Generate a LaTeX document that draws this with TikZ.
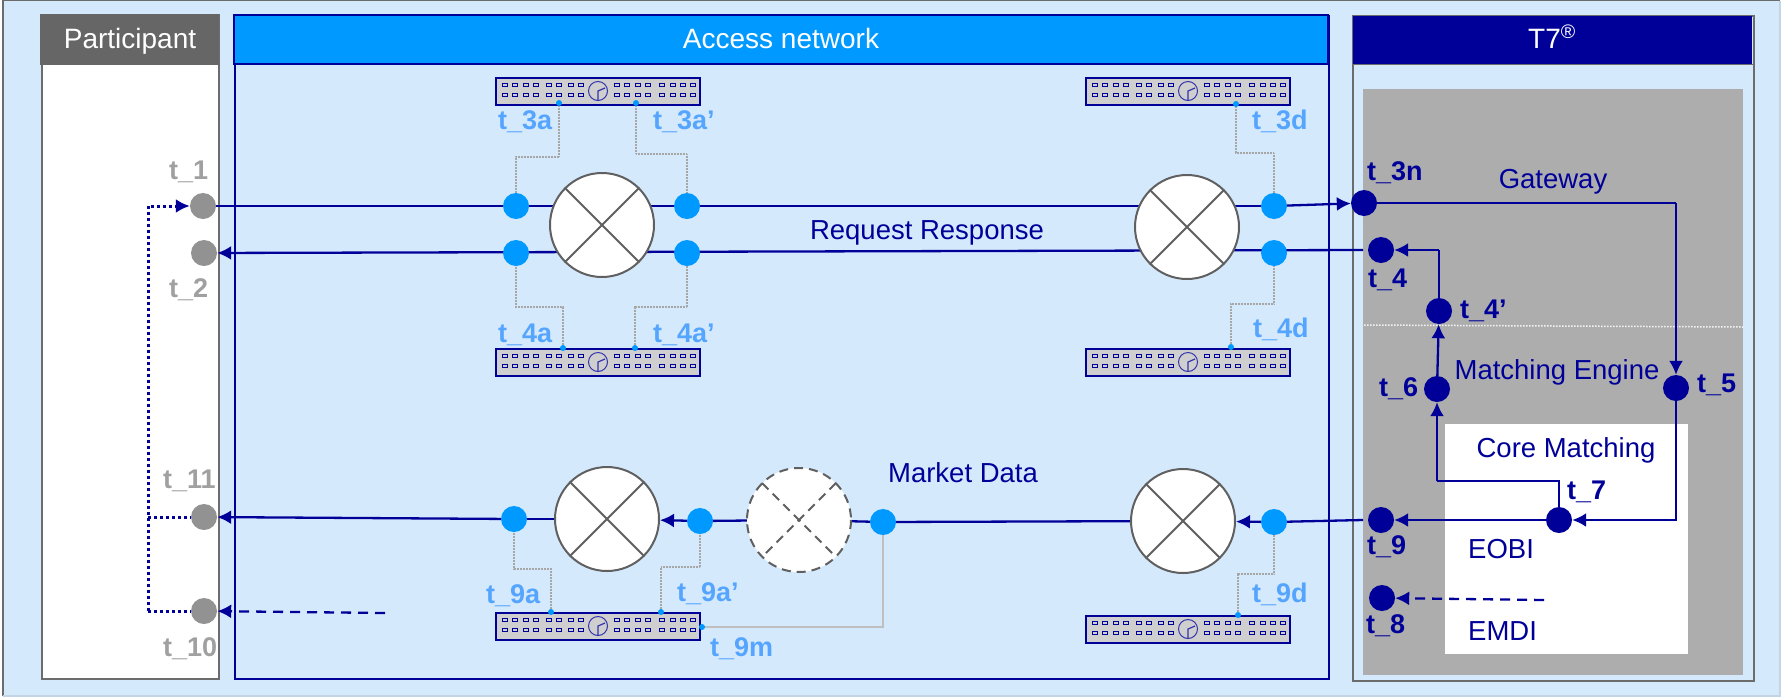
\documentclass[tikz,border=0pt]{standalone}
\usepackage{fontspec}
\setmainfont{Liberation Sans}
\usetikzlibrary{arrows.meta}
\pgfdeclarelayer{panels}
\pgfdeclarelayer{wires}
\pgfsetlayers{panels,wires,main}
\definecolor{navy}{HTML}{000099}
\definecolor{skyb}{HTML}{0099FF}
\definecolor{paleb}{HTML}{D5E9FD}
\definecolor{labb}{HTML}{55A5FF}
\definecolor{dotg}{HTML}{929292}
\definecolor{labg}{HTML}{A0A0A0}
\definecolor{panelg}{HTML}{ADADAD}
\definecolor{headg}{HTML}{666666}
\definecolor{chipg}{HTML}{CFCFCF}
\tikzset{
  flow/.style={draw=navy,line width=2.3pt},
  flowa/.style={flow,-{Latex[length=14pt,width=14pt]}},
  flowdash/.style={flowa,dash pattern=on 10pt off 7pt},
  flowdot/.style={draw=navy,line width=3pt,dash pattern=on 3pt off 3pt},
  flowdota/.style={flowdot,-{Latex[length=14pt,width=14pt,sep=0pt]}},
  probe/.style={draw=gray!70,line width=1.1pt,dash pattern=on 1pt off .5pt},
  probesolid/.style={draw=gray!50,line width=1.2pt},
  sw/.style={circle,draw=gray!75!black,fill=white,line width=2pt,minimum size=104pt,inner sep=0pt},
  swd/.style={circle,draw=none,fill=white,minimum size=104pt,inner sep=0pt},
  dot/.style={circle,fill=skyb,minimum size=26pt,inner sep=0pt},
  tiny/.style={circle,fill=skyb,minimum size=6pt,inner sep=0pt},
  tp/.style={circle,fill=navy,minimum size=26pt,inner sep=0pt},
  pp/.style={circle,fill=dotg,minimum size=26pt,inner sep=0pt},
  lab/.style={inner sep=0pt,anchor=base west,font=\fontsize{27}{30}\selectfont\bfseries},
  txt/.style={inner sep=0pt,anchor=base,font=\fontsize{27.5}{30}\selectfont},
  head/.style={txt,text=white,font=\fontsize{28}{30}\selectfont},
  labl/.style={lab,text=labb},
  labn/.style={lab,text=navy},
  labp/.style={lab,text=labg},
  recbox/.style={draw=navy,fill=chipg,line width=2pt,anchor=north west,minimum width=#1,minimum height=27pt,inner sep=0pt},
}
\newcommand{\recorder}[3]{% name, x, y
  \node[recbox=204pt] (#1) at (#2,#3) {};
  \foreach \xo in {10,20,31,41,54,64,76,86,122,132,143,153,167,178,188,198}
    \foreach \yo in {8,18}
      \draw[navy,line width=.9pt] (#2+\xo-2.5,#3+\yo-1.8) rectangle ++(5,3.6);
  \draw[navy!80,line width=1pt] (#2+103,#3+14) circle (9.5);
  \draw[navy!80,line width=1.2pt] (#2+103,#3+23) -- (#2+103,#3+14) -- (#2+110,#3+11);
}
\newcommand{\crossx}[1]{%
  \draw[gray!75!black,line width=2pt] (#1.north west) -- (#1.south east) (#1.north east) -- (#1.south west);
}
\begin{document}
\begin{tikzpicture}[x=1pt,y=-1pt]
\useasboundingbox (0,0) rectangle (1782,697);
\begin{pgfonlayer}{panels}
\fill[paleb] (3,0.5) rectangle (1780,696);
\draw[gray!85!black,line width=1.5pt] (3,696) -- (3,0.5) -- (1780,0.5);
\draw[paleb!80!gray,line width=1.5pt] (3,696) -- (1780,696) -- (1780,0.5);
\node[draw=gray!85!black,fill=white,line width=2pt,anchor=north west,minimum width=177pt,minimum height=664pt,inner sep=0pt] (part) at (41,14) {};
\fill[headg] (40,14) rectangle (219,65);
\node[draw=navy,fill=paleb,line width=2pt,anchor=north west,minimum width=1094pt,minimum height=663pt,inner sep=0pt] (acc) at (234,15) {};
\draw[navy,line width=2pt,fill=skyb] (234,15) rectangle (1328,64);
\node[draw=gray!85!black,fill=paleb,line width=2pt,anchor=north west,minimum width=401pt,minimum height=665pt,inner sep=0pt] (t7) at (1352,15) {};
\fill[navy] (1353,16) rectangle (1752,64);
\draw[gray!85!black,line width=1.5pt] (1352,64.5) -- (1753,64.5);
\node[fill=panelg,anchor=north west,minimum width=380pt,minimum height=586pt,inner sep=0pt] (gray) at (1363,89) {};
\node[fill=white,anchor=north west,minimum width=243pt,minimum height=230pt,inner sep=0pt] (core) at (1445,424) {};
\draw[white!85!panelg,line width=1.5pt,dash pattern=on 1.5pt off 1.5pt] (1364,325) -- (1743,327);
\end{pgfonlayer}
\node[head] (partt) at (130,48) {Participant};
\node[head] (acct) at (781,48) {Access network};
\node[head] (t7t) at (1552,48) {T7\textsuperscript{®}};
% timestamp points
\node[pp] (t1) at (203,206) {};
\node[pp] (t2) at (204,253) {};
\node[pp] (t11) at (204,517) {};
\node[pp] (t10) at (204,611) {};
\node[tp] (t3n) at (1364,203) {};
\node[tp] (t4) at (1381,250) {};
\node[tp] (t4p) at (1439,311) {};
\node[tp] (t6) at (1437,389) {};
\node[tp] (t5) at (1676,388) {};
\node[tp] (t7n) at (1559,520) {};
\node[tp] (t9) at (1381,520) {};
\node[tp] (t8) at (1382,598) {};
\coordinate (stubf) at (1363,250);
\coordinate (stubm) at (1363,520);
\coordinate (dashe) at (1544,600);
\coordinate (dasht) at (385,613);
\coordinate (dotx) at (148,206);
\coordinate (gwc) at (1676,203);
\coordinate (j7) at (1559,481);
\coordinate (j6) at (1437,481);
\coordinate (j4) at (1439,250);
% switches
\node[sw] (s1) at (602,225) {}; \crossx{s1}
\node[sw] (s2) at (1187,227) {}; \crossx{s2}
\node[sw] (s3) at (607,519) {}; \crossx{s3}
\node[swd] (s4) at (799,520) {};
\node[sw] (s5) at (1183,521) {}; \crossx{s5}
\draw[gray!75!black,line width=2pt,dash pattern=on 9pt off 6pt] (s4.center) circle (52);
\draw[gray!75!black,line width=2pt,dash pattern=on 9pt off 6pt] (s4.north west) -- (s4.south east) (s4.north east) -- (s4.south west);
% capture points
\node[dot] (d3a) at (516,206) {};
\node[dot] (d4a) at (516,253) {};
\node[dot] (d3b) at (687,206) {};
\node[dot] (d4b) at (687,253) {};
\node[dot] (d3d) at (1274,206) {};
\node[dot] (d4d) at (1274,253) {};
\node[dot] (d9a) at (514,519) {};
\node[dot] (d9b) at (700,521) {};
\node[dot] (d9m) at (883,522) {};
\node[dot] (d9d) at (1274,522) {};
% labels before recorders
\node[labl] (l3a) at (498,129) {t\_3a};
\node[labl] (l3b) at (653,129) {t\_3a’};
\node[labl] (l3d) at (1252,129) {t\_3d};
\node[labl] (l4a) at (498,342) {t\_4a};
\node[labl] (l4b) at (653,342) {t\_4a’};
\node[labl] (l4d) at (1253,337) {t\_4d};
\node[labl] (l9a) at (486,603) {t\_9a};
\node[labl] (l9b) at (677,601) {t\_9a’};
\node[labl] (l9m) at (710,656) {t\_9m};
\node[labl] (l9d) at (1252,602) {t\_9d};
% recorders
\recorder{r1}{495}{77}
\recorder{r2}{1085}{77}
\recorder{r3}{495}{348}
\recorder{r4}{1085}{348}
\recorder{r5}{495}{612}
\recorder{r6}{1085}{615}
\node[tiny] (p3a) at (559,103) {};
\node[tiny] (p3b) at (636,103) {};
\node[tiny] (p3d) at (1236,104) {};
\node[tiny] (p4a) at (563,348) {};
\node[tiny] (p4b) at (635,348) {};
\node[tiny] (p4d) at (1231,347) {};
\node[tiny] (p9a) at (551,612) {};
\node[tiny] (p9b) at (661,612) {};
\node[tiny] (p9m) at (702,627) {};
\node[tiny] (p9d) at (1238,615) {};
% connectors
\begin{pgfonlayer}{wires}
\draw[flow] (t1.east) -- (d3d.center);
\draw[flowa] (d3d) -- (t3n);
\draw[flowa] (stubf) -- (t2);
\draw[flow] (t3n.center) -- (gwc);
\draw[flowa] (gwc) -- (t5);
\draw[flowa] (t5.center) |- (t7n);
\draw[flow] (t7n.center) -- (j7) -- (j6);
\draw[flowa] (j6) -- (t6);
\draw[flowa] (t6) -- (t4p);
\draw[flow] (t4p.center) -- (j4);
\draw[flowa] (j4) -- (t4);
\draw[flowa] (t7n) -- (t9);
\draw[flowdash] (dashe) -- (t8);
\draw[flow] (stubm) -- (d9d.center);
\draw[flowa] (d9d) -- (s5);
\draw[flow] (s5) -- (d9m.center);
\draw[flow] (d9m.center) -- (s4.center);
\draw[flow] (s4.center) -- (d9b.center);
\draw[flowa] (d9b) -- (s3);
\draw[flow] (s3) -- (d9a.center);
\draw[flowa] (d9a) -- (t11);
\draw[flowdash] (dasht) -- (t10);
\draw[flowdota] (t10.center -| dotx) -- (dotx) -- (t1);
\draw[flowdot] (dotx |- t10) -- (t10);
\draw[flowdot] (dotx |- t11) -- (t11);
\draw[probe] (p3a.center) -- ++(0,54) -| (d3a.center);
\draw[probe] (p3b.center) -- ++(0,51) -| (d3b.center);
\draw[probe] (p3d.center) -- ++(0,49) -| (d3d.center);
\draw[probe] (p4a.center) -- ++(0,-41) -| (d4a.center);
\draw[probe] (p4b.center) -- ++(0,-41) -| (d4b.center);
\draw[probe] (p4d.center) -- ++(0,-43) -| (d4d.center);
\draw[probe] (p9a.center) -- ++(0,-43) -| (d9a.center);
\draw[probe] (p9b.center) -- ++(0,-45) -| (d9b.center);
\draw[probesolid] (p9m.center) -| (d9m.center);
\draw[probe] (p9d.center) -- ++(0,-41) -| (d9d.center);
\end{pgfonlayer}
% remaining labels
\node[labn] (l3n) at (1367,180) {t\_3n};
\node[labn] (l4) at (1368,287) {t\_4};
\node[labn] (l4p) at (1460,318) {t\_4’};
\node[labn] (l6) at (1379,396) {t\_6};
\node[labn] (l5) at (1697,392) {t\_5};
\node[labn] (l7) at (1567,499) {t\_7};
\node[labn] (l9) at (1367,554) {t\_9};
\node[labn] (l8) at (1366,633) {t\_8};
\node[labp] (l1) at (169,179) {t\_1};
\node[labp] (l2) at (169,297) {t\_2};
\node[labp] (l11) at (163,488) {t\_11};
\node[labp] (l10) at (163,656) {t\_10};
\node[txt,text=navy] (tg) at (1553,188) {Gateway};
\node[txt,text=navy] (tm) at (1557,379) {Matching Engine};
\node[txt,text=navy] (tc) at (1566,457) {Core Matching};
\node[txt,text=navy,anchor=base west] (te) at (1468,558) {EOBI};
\node[txt,text=navy,anchor=base west] (td) at (1468,640) {EMDI};
\node[txt,text=navy] (tr) at (927,239) {Request Response};
\node[txt,text=navy] (tk) at (963,482) {Market Data};
\end{tikzpicture}
\end{document}
